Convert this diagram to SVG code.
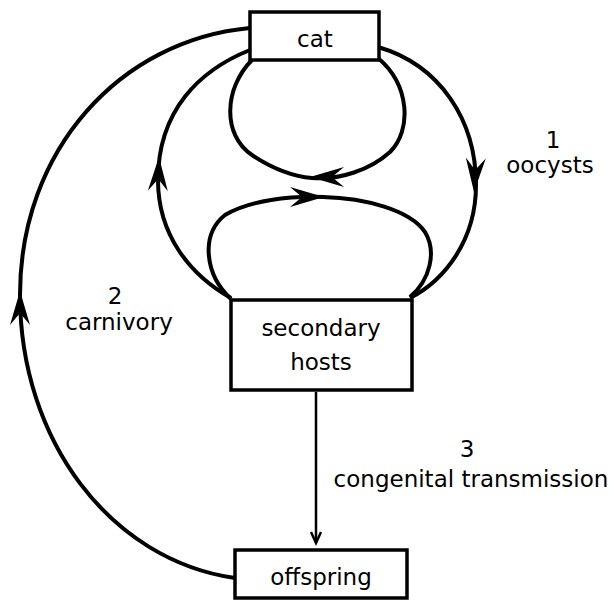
<svg xmlns="http://www.w3.org/2000/svg" xmlns:xlink="http://www.w3.org/1999/xlink" width="614" height="601" viewBox="0 0 614 601">
<style>
.box{fill:#fff;stroke:#000;stroke-width:3.5}
.lbl{font-family:"DejaVu Sans",sans-serif;font-size:23px;fill:#000;text-anchor:middle}
.c{fill:none;stroke:#000;stroke-width:4}
.thin{fill:none;stroke:#000;stroke-width:2.5}
</style>
<defs>
<path id="ah" d="M0,0 L-34,-10 L-22,0 L-34,10 Z" fill="#000"/>
</defs>
<rect width="614" height="601" fill="#fff"/>
<g id="connectors">
<path class="c" d="M250,28 C120,40 20,150 20,295 C20,440 110,560 235,578"/>
<path class="c" d="M250,50 C200,70 158,110 158,180 C158,235 190,275 231,298"/>
<path class="c" d="M378,47 C440,65 476,120 476,185 C476,240 445,280 410,298"/>
<path class="c" d="M252,60 C224,88 222,135 252,155 C270,167 290,176 312,178 C340,180 370,170 390,152 C412,130 410,85 378,58"/>
<path class="c" d="M231,299 C205,275 200,235 225,215 C250,200 290,196 323,197 C365,198 410,210 425,232 C437,252 430,280 410,297"/>
<use xlink:href="#ah" transform="translate(20,291) rotate(-90)"/>
<use xlink:href="#ah" transform="translate(159,157) rotate(-88)"/>
<use xlink:href="#ah" transform="translate(474,192) rotate(93)"/>
<use xlink:href="#ah" transform="translate(310,177) rotate(180)"/>
<use xlink:href="#ah" transform="translate(324,197)"/>
<path class="thin" d="M316,392 L316,543"/>
<path class="thin" d="M311,532 L316,543 L321,532"/>
</g>
<g id="cat">
<rect class="box" x="250" y="12" width="129" height="48"/>
<text class="lbl" x="315" y="47">cat</text>
</g>
<g id="secondary-hosts">
<rect class="box" x="231" y="300" width="181" height="90"/>
<text class="lbl" x="321" y="336">secondary</text>
<text class="lbl" x="321" y="370">hosts</text>
</g>
<g id="offspring">
<rect class="box" x="235" y="550" width="172" height="48"/>
<text class="lbl" x="321" y="585">offspring</text>
</g>
<g id="labels">
<text class="lbl" x="553" y="148">1</text>
<text class="lbl" x="550" y="173">oocysts</text>
<text class="lbl" x="115" y="304">2</text>
<text class="lbl" x="119" y="330">carnivory</text>
<text class="lbl" x="467" y="457">3</text>
<text class="lbl" x="471" y="487">congenital transmission</text>
</g>
</svg>
